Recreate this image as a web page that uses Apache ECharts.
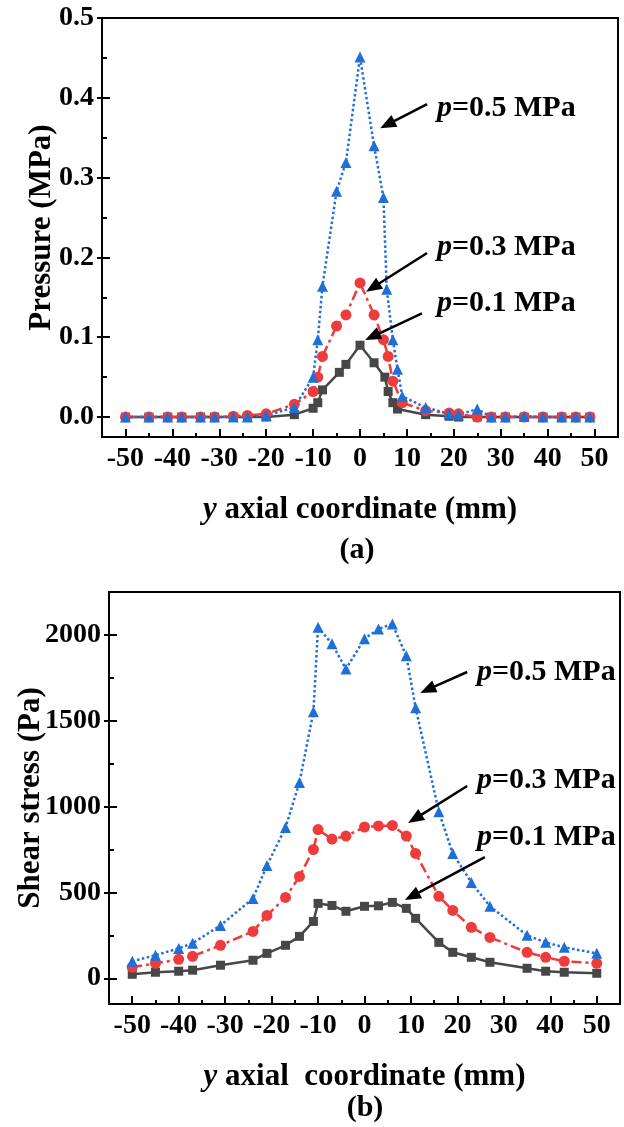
<!DOCTYPE html>
<html><head><meta charset="utf-8">
<script src="https://cdn.jsdelivr.net/npm/echarts@6/dist/echarts.min.js"></script>
<style>html,body{margin:0;padding:0;background:#fff}#c{width:624px;height:1127px}</style>
</head><body><div id="c"></div>
<script>
const FONT = "'Liberation Serif','Times New Roman',serif";

// ---- tick values ----
const xTicks = [-50,-40,-30,-20,-10,0,10,20,30,40,50];
const xMinor = [-45,-35,-25,-15,-5,5,15,25,35,45];
const pTicks = [0,0.1,0.2,0.3,0.4,0.5];
const pMinor = [0.05,0.15,0.25,0.35,0.45];
const sTicks = [0,500,1000,1500,2000];
const sMinor = [250,750,1250,1750];

// ---- (a) pressure (MPa) ----
const presX_01 = [-50,-45,-41,-38,-34,-31,-27,-24,-20,-14,-10,-9,-8,-4.4,-3,0,3,5.3,6,7,8,14,19,21,25,28,31,35,39,43,46,49];
const presY_01 = [0,0,0,0,0,0,0,0,0,0.003,0.011,0.018,0.034,0.056,0.066,0.09,0.068,0.05,0.032,0.018,0.01,0.003,0.001,0,0,0,0,0,0,0,0,0];
const presX_03 = [-50,-45,-41,-38,-34,-31,-27,-24,-20,-14,-10,-9,-8,-5,-3,0,3,5,6,7,9,14,19,21,25,28,31,35,39,43,46,49];
const presY_03 = [0,0,0,0,0,0,0.001,0.002,0.004,0.016,0.032,0.05,0.076,0.114,0.128,0.168,0.128,0.097,0.076,0.045,0.018,0.008,0.005,0.004,0,0,0,0,0,0,0,0];
const presX_05 = [-50,-45,-41,-38,-34,-31,-27,-24,-20,-14,-10,-9,-8,-5,-3,0,3,5,5.7,7,8,9,14,19,21,25,28,31,35,39,43,46,49];
const presY_05 = [0,0,0,0,0,0,0,0,0.002,0.012,0.05,0.097,0.164,0.283,0.319,0.451,0.34,0.275,0.16,0.097,0.06,0.026,0.012,0.004,0.003,0.01,0,0,0.001,0,0,0,0];

// ---- (b) shear stress (Pa) ----
const shearX = [-50,-45,-40,-37,-31,-24,-21,-17,-14,-11,-10,-7,-4,0,3,6,9,11,16,19,23,27,35,39,43,50];
const shear05 = [99,134,174,204,308,465,657,878,1140,1552,2045,1948,1802,1977,2035,2064,1878,1576,970,727,558,419,250,209,180,145];
const shear03 = [64,87,110,128,192,273,366,471,593,750,866,811,828,881,887,890,828,727,477,395,297,238,151,122,99,87];
const shear01 = [23,35,41,47,76,105,145,192,244,331,436,424,390,419,422,442,407,349,209,151,122,93,58,41,35,29];

const zip = (xs, ys) => xs.map((x, i) => [x, ys[i]]);
const BLUE = '#1f6fd8', RED = '#ee3b3b', GRAY = '#474747';

const txt = {fontFamily: FONT, fontWeight: 'bold', color: '#000'};

function xAxes(g, name, gap) {
  return [
    {type:'value', gridIndex:g, min:-55, max:55, position:'bottom',
     axisLine:{show:true, onZero:false, lineStyle:{color:'#000', width:2}},
     axisTick:{show:true, inside:true, length:8, customValues:xTicks, lineStyle:{color:'#000', width:2}},
     axisLabel:Object.assign({show:true, customValues:xTicks, fontSize:28, margin:8}, txt),
     splitLine:{show:false},
     name:name, nameLocation:'middle', nameGap:gap, nameMoveOverlap:false,
     nameTextStyle:{fontFamily:FONT, fontWeight:'bold', fontSize:31, color:'#000',
       rich:{i:{fontFamily:FONT, fontWeight:'bold', fontStyle:'italic', fontSize:31, color:'#000'},
             n:{fontFamily:FONT, fontWeight:'bold', fontSize:31, color:'#000'}}}},
    {type:'value', gridIndex:g, min:-55, max:55, position:'bottom',
     axisLine:{show:false, onZero:false},
     axisTick:{show:true, inside:true, length:4, customValues:xMinor, lineStyle:{color:'#000', width:2}},
     axisLabel:{show:false}, splitLine:{show:false}}
  ];
}
function yAxes(g, min, max, majors, minors, fmt, name, gap) {
  return [
    {type:'value', gridIndex:g, min:min, max:max, position:'left',
     axisLine:{show:true, onZero:false, lineStyle:{color:'#000', width:2}},
     axisTick:{show:true, inside:true, length:8, customValues:majors, lineStyle:{color:'#000', width:2}},
     axisLabel:Object.assign({show:true, customValues:majors, fontSize:28, margin:8, formatter:fmt}, txt),
     splitLine:{show:false},
     name:name, nameLocation:'middle', nameGap:gap, nameMoveOverlap:false,
     nameTextStyle:{fontFamily:FONT, fontWeight:'bold', fontSize:31, color:'#000'}},
    {type:'value', gridIndex:g, min:min, max:max, position:'left',
     axisLine:{show:false, onZero:false},
     axisTick:{show:true, inside:false, length:5, customValues:majors, lineStyle:{color:'#000', width:2}},
     axisLabel:{show:false}, splitLine:{show:false}},
    {type:'value', gridIndex:g, min:min, max:max, position:'left',
     axisLine:{show:false, onZero:false},
     axisTick:{show:true, inside:true, length:5, customValues:minors, lineStyle:{color:'#000', width:2}},
     axisLabel:{show:false}, splitLine:{show:false}}
  ];
}

function mk(name, data, color, symbol, size, ltype, xi, yi) {
  return {type:'line', name:name, xAxisIndex:xi, yAxisIndex:yi, data:data,
    symbol:symbol, symbolSize:size, showSymbol:true, animation:false,
    itemStyle:{color:color, borderWidth:0},
    lineStyle:{color:color, width:2.5, type:ltype}, z:3};
}
const DOT = [2.5,2.5], DASHDOT = [10,4,3,4];

const option = {
  backgroundColor:'#fff',
  animation:false,
  grid:[
    {left:102, top:18, right:6, bottom:690, show:true, borderColor:'#000', borderWidth:2, backgroundColor:'transparent'},
    {left:109, top:592, right:4, bottom:123, show:true, borderColor:'#000', borderWidth:2, backgroundColor:'transparent'}
  ],
  xAxis:[].concat(xAxes(0, '{i|y}{n| axial coordinate (mm)}', 57), xAxes(1, '{i|y}{n| axial  coordinate (mm)}', 57)),
  yAxis:[].concat(
    yAxes(0, -0.025, 0.5, pTicks, pMinor, v => v.toFixed(1), 'Pressure (MPa)', 45),
    yAxes(1, -150, 2250, sTicks, sMinor, v => String(v), 'Shear stress (Pa)', 63)),
  series:[
    mk('p=0.1 MPa (a)', zip(presX_01, presY_01), GRAY, 'rect', 9, 'solid', 0, 0),
    mk('p=0.3 MPa (a)', zip(presX_03, presY_03), RED, 'circle', 11, DASHDOT, 0, 0),
    mk('p=0.5 MPa (a)', zip(presX_05, presY_05), BLUE, 'triangle', 11, DOT, 0, 0),
    mk('p=0.1 MPa (b)', zip(shearX, shear01), GRAY, 'rect', 9, 'solid', 2, 3),
    mk('p=0.3 MPa (b)', zip(shearX, shear03), RED, 'circle', 11, DASHDOT, 2, 3),
    mk('p=0.5 MPa (b)', zip(shearX, shear05), BLUE, 'triangle', 11, DOT, 2, 3)
  ]
};

const chart = echarts.init(document.getElementById('c'), null, {renderer:'canvas'});
chart.setOption(option);

// annotations in data coordinates: label text anchor, arrow tail, arrow head
const annotations = [
  {xi:0, yi:0, label:'0.5', text:[16.4,0.387], tail:[14.3,0.392], head:[4.3,0.362]},
  {xi:0, yi:0, label:'0.3', text:[16.4,0.213], tail:[14.3,0.2055], head:[1.3,0.157]},
  {xi:0, yi:0, label:'0.1', text:[16.4,0.143], tail:[13.2,0.130], head:[1.1,0.0965]},
  {xi:2, yi:3, label:'0.5', text:[24.2,1784], tail:[22.1,1784], head:[12.0,1662]},
  {xi:2, yi:3, label:'0.3', text:[24.2,1155], tail:[22.1,1120], head:[9.4,904]},
  {xi:2, yi:3, label:'0.1', text:[24.2,823], tail:[25.9,706], head:[8.7,456]}
];
const gfx = [];
annotations.forEach(a => {
  const f = {xAxisIndex:a.xi, yAxisIndex:a.yi};
  const t = chart.convertToPixel(f, a.text);
  const p0 = chart.convertToPixel(f, a.tail);
  const p1 = chart.convertToPixel(f, a.head);
  const dx = p1[0]-p0[0], dy = p1[1]-p0[1], L = Math.hypot(dx, dy);
  const ux = dx/L, uy = dy/L, hl = 16, hw = 6.5;
  const bx = p1[0]-ux*hl, by = p1[1]-uy*hl;
  gfx.push({type:'line', shape:{x1:p0[0], y1:p0[1], x2:bx+ux*2, y2:by+uy*2},
    style:{stroke:'#000', lineWidth:2.5}, z:10});
  gfx.push({type:'polygon', shape:{points:[[p1[0],p1[1]],[bx-uy*hw,by+ux*hw],[bx+uy*hw,by-ux*hw]]},
    style:{fill:'#000'}, z:10});
  gfx.push({type:'text', x:t[0], y:t[1], z:10,
    style:{text:'{i|p}{n|=' + a.label + ' MPa}', verticalAlign:'middle', align:'left',
      rich:{i:{fontFamily:FONT, fontWeight:'bold', fontStyle:'italic', fontSize:30, fill:'#000'},
            n:{fontFamily:FONT, fontWeight:'bold', fontSize:30, fill:'#000'}}}});
});
// panel captions
[['(a)', 357, 550], ['(b)', 365, 1108]].forEach(c => {
  gfx.push({type:'text', x:c[1], y:c[2], z:10,
    style:{text:c[0], align:'center', verticalAlign:'middle',
      fontFamily:FONT, fontWeight:'bold', fontSize:30, fill:'#000'}});
});
chart.setOption({graphic:gfx});
</script></body></html>
